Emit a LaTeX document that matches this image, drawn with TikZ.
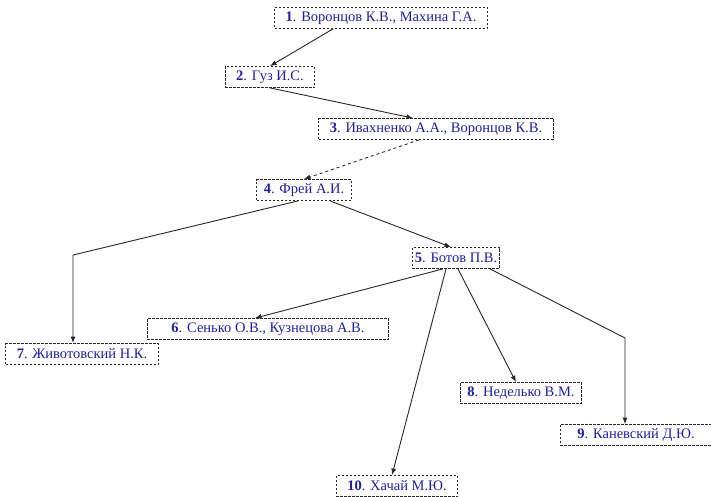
\documentclass[tikz,border=0pt]{standalone}
\usepackage{fontspec}
\setmainfont{Liberation Serif}
\usepackage{tikz}
\usetikzlibrary{arrows.meta, positioning, calc}
\definecolor{authorblue}{RGB}{32,32,145}
\tikzset{
	author/.style={draw=black!85, dash pattern=on 2.4pt off 1.6pt, line width=0.8pt,
		font=\fontsize{14.5}{16}\selectfont\color{authorblue}, inner xsep=11pt,
		minimum height=21pt, inner ysep=1pt}
}
\tikzset{
	link/.style={draw=black!85, line width=0.9pt, -{Latex[length=6.5pt,width=5pt]}}
}
\newcommand{\num}[1]{\textbf{#1}}

\begin{document}
\begin{tikzpicture}[x=1pt, y=-1pt]
      \useasboundingbox (0,0) rectangle (711,496);
      % authors
      \node[author] (n1) at (381,18) {\num{1}. Воронцов К.В., Махина Г.А.};
      \node[author] (n2) at (270,77) {\num{2}. Гуз И.С.};
      \node[author] (n3) at (436,129) {\num{3}. Ивахненко А.А., Воронцов К.В.};
      \node[author, inner xsep=7pt] (n4) at (304,190) {\num{4}. Фрей А.И.};
      \node[author, inner xsep=2.5pt] (n5) at (456,258) {\num{5}. Ботов П.В.};
      \node[author, inner xsep=24pt] (n6) at (268,329) {\num{6}. Сенько О.В., Кузнецова А.В.};
      \node[author] (n7) at (82,354) {\num{7}. Животовский Н.К.};
      \node[author, inner xsep=7pt] (n8) at (521,393) {\num{8}. Неделько В.М.};
      \node[author, inner xsep=17pt] (n9) at (636,435) {\num{9}. Каневский Д.Ю.};
      \node[author] (n10) at (397,486) {\num{10}. Хачай М.Ю.};
      % bends
      \coordinate (c7) at (73,255);
      \coordinate (c9) at (625,338);
      % links
      \draw[link] ([xshift=-48pt]n1.south) -- (n2.north);
      \draw[link] (n2.south) -- ([xshift=-23pt]n3.north);
      \draw[link, dashed] ([xshift=-17pt]n3.south) -- (n4.north);
      \draw[link] ([xshift=26pt]n4.south) -- ([xshift=-5pt]n5.north);
      \draw[link] ([xshift=-6pt]n4.south) -- (c7) -- (c7 |- n7.north);
      \draw[link] ([xshift=-13pt]n5.south) -- ([xshift=-13pt]n6.north);
      \draw[link] ([xshift=-10pt]n5.south) -- ([xshift=-5pt]n10.north);
      \draw[link] ([xshift=2pt]n5.south) -- ([xshift=-5pt]n8.north);
      \draw[link] ([xshift=34pt]n5.south) -- (c9) -- (c9 |- n9.north);
\end{tikzpicture}
\end{document}
